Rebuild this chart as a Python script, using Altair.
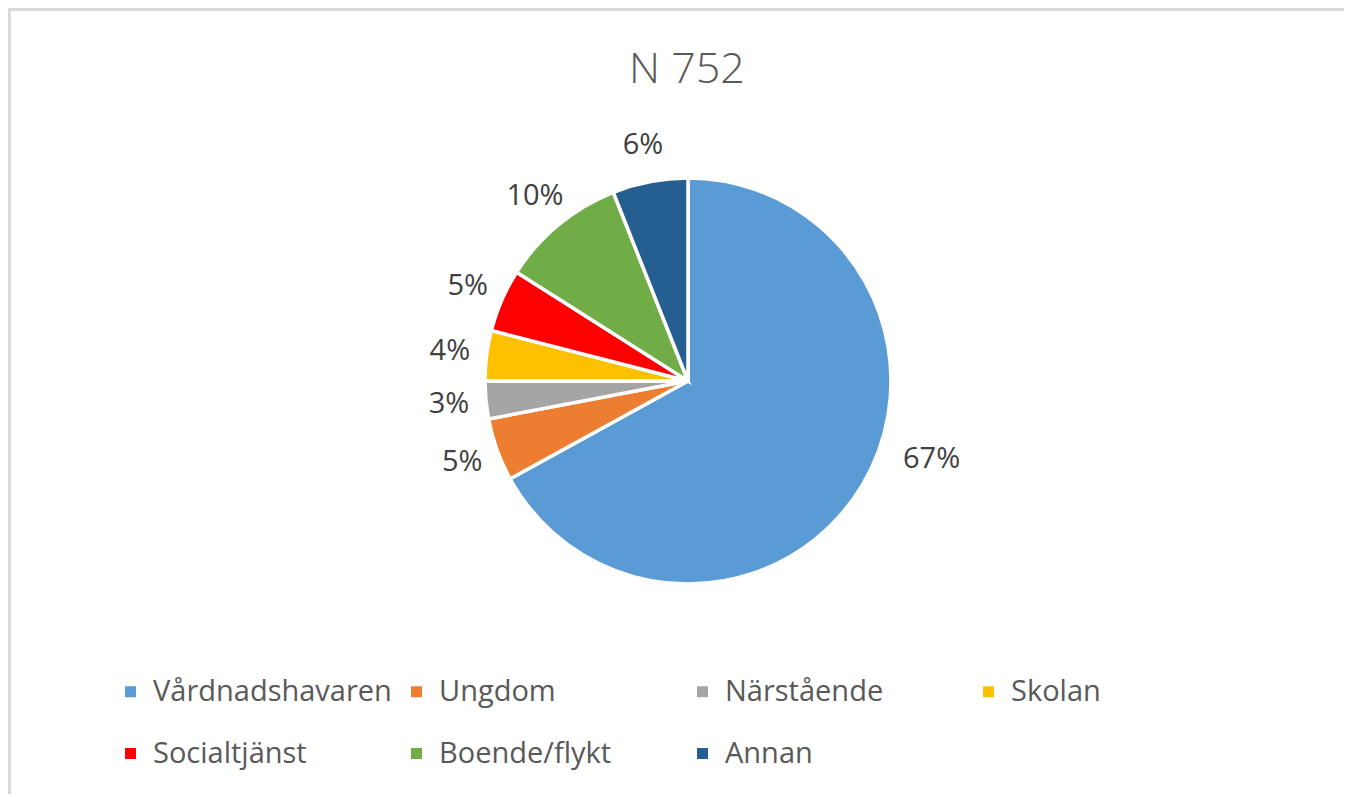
import altair as alt
import pandas as pd

categories = ["Vårdnadshavaren", "Ungdom", "Närstående", "Skolan",
              "Socialtjänst", "Boende/flykt", "Annan"]
percent = [67, 5, 3, 4, 5, 10, 6]
colors = ["#5B9BD5", "#ED7D31", "#A5A5A5", "#FFC000",
          "#FF0000", "#70AD47", "#255E91"]
title_text = "N 752"

df = pd.DataFrame({
    "category": categories,
    "percent": percent,
    "order": list(range(len(categories))),
})
df["label"] = df["percent"].astype(str) + "%"
TOTAL = float(sum(percent))

FONT = "Open Sans"
R = 203
CX, CY = 680, 373  # pie centre inside the plot area
W, H = 1336, 786

theta_scale = alt.Scale(domain=[0, TOTAL])

pie = alt.Chart(df).mark_arc(outerRadius=R, stroke="white", strokeWidth=3.5).encode(
    theta=alt.Theta("percent:Q", stack=True, scale=theta_scale),
    order=alt.Order("order:Q", sort="ascending"),
    x=alt.value(CX),
    y=alt.value(CY),
    color=alt.Color(
        "category:N",
        scale=alt.Scale(domain=categories, range=colors),
        sort=categories,
        legend=alt.Legend(
            title=None,
            orient="none",
            legendX=108,
            legendY=669,
            direction="horizontal",
            columns=4,
            gridAlign="all",
            columnPadding=10,
            rowPadding=32,
            symbolType="square",
            symbolSize=121,
            symbolStrokeWidth=0,
            labelOffset=8,
            labelFont=FONT,
            labelFontSize=29,
            labelColor="#595959",
            labelLimit=400,
            padding=0,
        ),
    ),
)

label_base = alt.Chart(df).transform_window(
    cum="sum(percent)", sort=[alt.SortField("order", order="ascending")],
    frame=[None, 0],
).transform_calculate(
    mid="datum.cum - datum.percent / 2"
).encode(
    theta=alt.Theta("mid:Q", scale=theta_scale),
    x=alt.value(CX),
    y=alt.value(CY),
    text="label:N",
)

labels_small = label_base.transform_filter(
    alt.datum.category != categories[0]
).mark_text(
    radius=R + 37, font=FONT, fontSize=29, color="#404040",
    align="center", baseline="middle",
)

labels_big = label_base.transform_filter(
    alt.datum.category == categories[0]
).mark_text(
    radius=R + 37, dx=37, dy=-44, font=FONT, fontSize=29, color="#404040",
    align="center", baseline="middle",
)

title = alt.Chart(pd.DataFrame({"t": [title_text]})).mark_text(
    font=FONT, fontSize=43, fontWeight=300, color="#595959",
    align="center", baseline="alphabetic",
).encode(text="t:N", x=alt.value(679), y=alt.value(75))

frame_top = alt.Chart(df).mark_rule(color="#d9d9d9", strokeWidth=3).encode(
    x=alt.value(0), x2=alt.value(W), y=alt.value(1)
)
frame_left = alt.Chart(df).mark_rule(color="#d9d9d9", strokeWidth=3).encode(
    x=alt.value(1.5), y=alt.value(0), y2=alt.value(H)
)

chart = alt.layer(
    frame_top, frame_left, pie, labels_small, labels_big, title
).properties(
    width=W,
    height=H,
    padding=0,
    autosize=alt.AutoSizeParams(type="none"),
    background="white",
).configure_view(stroke=None)

chart.save("out.html", embed_options={"renderer": "svg", "actions": False})
